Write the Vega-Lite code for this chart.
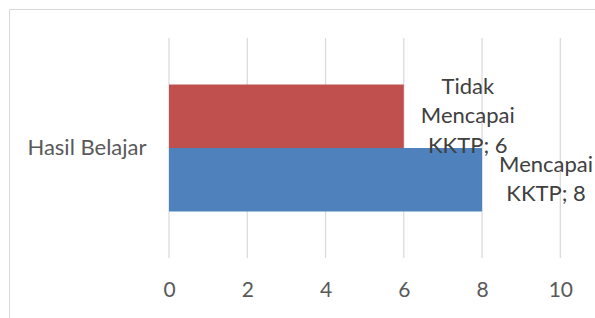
{
  "$schema": "https://vega.github.io/schema/vega-lite/v6.json",
  "width": 587,
  "height": 310,
  "autosize": {"type": "none"},
  "padding": {"left": 9, "top": 9, "right": -1, "bottom": -1},
  "background": "white",
  "config": {"view": {"stroke": "#D9D9D9", "strokeWidth": 1}, "font": "Lato"},
  "datasets": {
    "bars": [
      {"cat": "Hasil Belajar", "series": "Tidak Mencapai KKTP", "value": 6, "label": "Tidak\nMencapai\nKKTP; 6"},
      {"cat": "Hasil Belajar", "series": "Mencapai KKTP", "value": 8, "label": "Mencapai\nKKTP; 8"}
    ],
    "grid": [{"value": 0}, {"value": 2}, {"value": 4}, {"value": 6}, {"value": 8}, {"value": 10}]
  },
  "layer": [
    {
      "data": {"name": "grid"},
      "mark": {"type": "rule", "color": "#D9D9D9", "strokeWidth": 1.2},
      "encoding": {
        "x": {"field": "value", "type": "quantitative",
          "scale": {"domain": [-4.089, 10.912], "nice": false, "zero": false},
          "axis": {"values": [0, 2, 4, 6, 8, 10], "orient": "bottom", "domain": false, "ticks": false, "grid": false,
            "labelFontSize": 21, "labelColor": "#595959", "labelFont": "Lato", "labelBaseline": "middle",
            "labelPadding": 0, "offset": -29, "title": null, "labelFlush": false, "labelOverlap": false}},
        "y": {"datum": 0, "type": "quantitative", "scale": {"domain": [-0.27727, 1.13182], "nice": false, "zero": false}, "axis": null},
        "y2": {"datum": 1}
      }
    },
    {
      "data": {"name": "bars"},
      "mark": {"type": "bar"},
      "encoding": {
        "x": {"field": "value", "type": "quantitative",
          "scale": {"domain": [-4.089, 10.912], "nice": false, "zero": false},
          "axis": {"values": [0, 2, 4, 6, 8, 10], "orient": "bottom", "domain": false, "ticks": false, "grid": false,
            "labelFontSize": 21, "labelColor": "#595959", "labelFont": "Lato", "labelBaseline": "middle",
            "labelPadding": 0, "offset": -29, "title": null, "labelFlush": false, "labelOverlap": false}},
        "x2": {"datum": 0},
        "y": {"field": "cat", "type": "nominal",
          "scale": {"paddingInner": 0, "paddingOuter": 0.20455, "align": 0.3222},
          "axis": {"orient": "left", "domain": false, "ticks": false, "grid": false, "title": null,
            "labelFontSize": 22, "labelColor": "#595959", "labelFont": "Lato", "labelAlign": "right",
            "labelBaseline": "middle", "labelPadding": -137}},
        "yOffset": {"field": "series", "type": "nominal", "sort": ["Tidak Mencapai KKTP", "Mencapai KKTP"],
          "scale": {"paddingInner": 0, "paddingOuter": 0.7323}},
        "color": {"field": "series", "type": "nominal",
          "scale": {"domain": ["Tidak Mencapai KKTP", "Mencapai KKTP"], "range": ["#C0504D", "#4F81BD"]},
          "legend": null}
      }
    },
    {
      "data": {"name": "bars"},
      "transform": [{"filter": "datum.series === 'Tidak Mencapai KKTP'"}],
      "mark": {"type": "text", "align": "center", "baseline": "middle", "dx": 64, "dy": -29.5, "lineBreak": "\n",
        "lineHeight": 29.5, "fontSize": 22, "font": "Lato", "color": "#404040"},
      "encoding": {
        "x": {"field": "value", "type": "quantitative",
          "scale": {"domain": [-4.089, 10.912], "nice": false, "zero": false},
          "axis": {"values": [0, 2, 4, 6, 8, 10], "orient": "bottom", "domain": false, "ticks": false, "grid": false,
            "labelFontSize": 21, "labelColor": "#595959", "labelFont": "Lato", "labelBaseline": "middle",
            "labelPadding": 0, "offset": -29, "title": null, "labelFlush": false, "labelOverlap": false}},
        "y": {"field": "cat", "type": "nominal",
          "scale": {"paddingInner": 0, "paddingOuter": 0.20455, "align": 0.3222}, "axis": null},
        "yOffset": {"field": "series", "type": "nominal", "sort": ["Tidak Mencapai KKTP", "Mencapai KKTP"],
          "scale": {"domain": ["Tidak Mencapai KKTP", "Mencapai KKTP"], "paddingInner": 0, "paddingOuter": 0.7323}},
        "text": {"field": "label", "type": "nominal"}
      }
    },
    {
      "data": {"name": "bars"},
      "transform": [{"filter": "datum.series === 'Mencapai KKTP'"}],
      "mark": {"type": "text", "align": "center", "baseline": "middle", "dx": 64, "dy": -14.75, "lineBreak": "\n",
        "lineHeight": 29.5, "fontSize": 22, "font": "Lato", "color": "#404040"},
      "encoding": {
        "x": {"field": "value", "type": "quantitative",
          "scale": {"domain": [-4.089, 10.912], "nice": false, "zero": false},
          "axis": {"values": [0, 2, 4, 6, 8, 10], "orient": "bottom", "domain": false, "ticks": false, "grid": false,
            "labelFontSize": 21, "labelColor": "#595959", "labelFont": "Lato", "labelBaseline": "middle",
            "labelPadding": 0, "offset": -29, "title": null, "labelFlush": false, "labelOverlap": false}},
        "y": {"field": "cat", "type": "nominal",
          "scale": {"paddingInner": 0, "paddingOuter": 0.20455, "align": 0.3222}, "axis": null},
        "yOffset": {"field": "series", "type": "nominal", "sort": ["Tidak Mencapai KKTP", "Mencapai KKTP"],
          "scale": {"domain": ["Tidak Mencapai KKTP", "Mencapai KKTP"], "paddingInner": 0, "paddingOuter": 0.7323}},
        "text": {"field": "label", "type": "nominal"}
      }
    }
  ],
  "resolve": {"scale": {"y": "independent"}}
}
